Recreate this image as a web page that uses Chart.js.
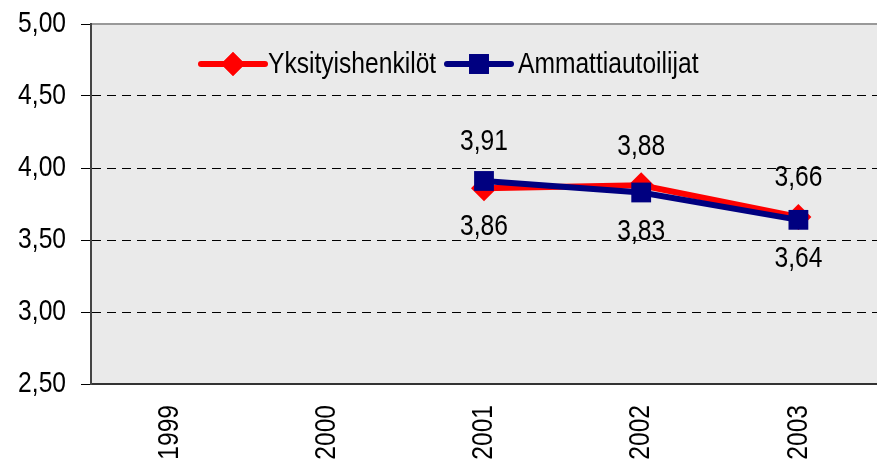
<!DOCTYPE html>
<html>
<head>
<meta charset="utf-8">
<script src="https://cdn.jsdelivr.net/npm/chart.js@4/dist/chart.umd.min.js"></script>
<style>
  html, body { margin: 0; padding: 0; background: #fff; overflow: hidden; }
  canvas { display: block; }
</style>
</head>
<body>
<canvas id="lineChart" width="877" height="467"></canvas>
<script>
const years = ["1999", "2000", "2001", "2002", "2003"];
const yksityiset = [null, null, 3.86, 3.88, 3.66];
const ammatti = [null, null, 3.91, 3.83, 3.64];
const seriesNames = ["Yksityishenkilöt", "Ammattiautoilijat"];
const yTicks = [2.5, 3.0, 3.5, 4.0, 4.5, 5.0];

const FONT = "30px 'Liberation Sans', Arial, sans-serif";
const NARROW = 0.82; // squeeze text to look like Arial Narrow
const RED = "#ff0000";
const NAVY = "#000080";

function fmt(v) {
  return v.toFixed(2).replace(".", ",");
}

// narrow text helper
function narrowText(ctx, txt, x, y, align) {
  ctx.save();
  ctx.translate(x, y);
  ctx.scale(NARROW, 1);
  ctx.textAlign = align;
  ctx.fillText(txt, 0, 0);
  ctx.restore();
}

// plot background + grey top border
const backdrop = {
  id: "backdrop",
  beforeDraw(chart) {
    const a = chart.chartArea, ctx = chart.ctx;
    ctx.save();
    ctx.fillStyle = "#eaeaea";
    ctx.fillRect(a.left, a.top, a.right - a.left, a.bottom - a.top);
    ctx.strokeStyle = "#999";
    ctx.lineWidth = 2;
    ctx.beginPath();
    ctx.moveTo(a.left, a.top);
    ctx.lineTo(a.right, a.top);
    ctx.stroke();
    ctx.restore();
  }
};

// axis tick labels drawn in narrow style
const axisLabels = {
  id: "axisLabels",
  afterDraw(chart) {
    const ctx = chart.ctx, xs = chart.scales.x, ys = chart.scales.y;
    ctx.save();
    ctx.font = FONT;
    ctx.fillStyle = "#000";
    ctx.textBaseline = "middle";
    yTicks.forEach(v => narrowText(ctx, fmt(v), ys.right - 25, ys.getPixelForValue(v), "right"));
    years.forEach((yr, i) => {
      ctx.save();
      ctx.translate(xs.getPixelForValue(i), xs.top + 21);
      ctx.rotate(-Math.PI / 2);
      narrowText(ctx, yr, 0, 0, "right");
      ctx.restore();
    });
    ctx.restore();
  }
};

// value labels: higher series above, lower below
const valueLabels = {
  id: "valueLabels",
  afterDatasetsDraw(chart) {
    const ctx = chart.ctx;
    const y = chart.scales.y;
    ctx.save();
    ctx.font = FONT;
    ctx.fillStyle = "#000";
    ctx.textBaseline = "middle";
    years.forEach((yr, i) => {
      const a = yksityiset[i], b = ammatti[i];
      if (a == null || b == null) return;
      const x = chart.scales.x.getPixelForValue(i);
      const hi = Math.max(a, b), lo = Math.min(a, b);
      narrowText(ctx, fmt(hi), x, y.getPixelForValue(hi) - 39, "center");
      narrowText(ctx, fmt(lo), x, y.getPixelForValue(lo) + 39, "center");
    });
    ctx.restore();
  }
};

// legend inside the plot
const innerLegend = {
  id: "innerLegend",
  afterDraw(chart) {
    const ctx = chart.ctx;
    const ly = 64;
    const items = [
      { x: 201, color: RED, style: "rectRot", r: 12, gap: 67 },
      { x: 447, color: NAVY, style: "rect", r: 14, gap: 71 }
    ];
    ctx.save();
    ctx.font = FONT;
    ctx.textBaseline = "middle";
    items.forEach((it, k) => {
      ctx.strokeStyle = it.color;
      ctx.lineWidth = 6;
      ctx.lineCap = "round";
      ctx.beginPath();
      ctx.moveTo(it.x, ly);
      ctx.lineTo(it.x + 64, ly);
      ctx.stroke();
      ctx.fillStyle = it.color;
      Chart.helpers.drawPoint(ctx, { pointStyle: it.style, radius: it.r, rotation: 0, borderWidth: 0 }, it.x + 32, ly);
      ctx.fill();
      ctx.fillStyle = "#000";
      narrowText(ctx, seriesNames[k], it.x + it.gap, ly + 1, "left");
    });
    ctx.restore();
  }
};

new Chart(document.getElementById("lineChart"), {
  type: "line",
  data: {
    labels: years,
    datasets: [
      {
        label: seriesNames[0],
        data: yksityiset,
        borderColor: RED,
        backgroundColor: RED,
        borderWidth: 6,
        pointStyle: "rectRot",
        pointRadius: 13,
        pointBorderWidth: 0,
        order: 1
      },
      {
        label: seriesNames[1],
        data: ammatti,
        borderColor: NAVY,
        backgroundColor: NAVY,
        borderWidth: 6,
        pointStyle: "rect",
        pointRadius: 14,
        pointBorderWidth: 0,
        order: 0
      }
    ]
  },
  options: {
    responsive: false,
    animation: false,
    layout: { autoPadding: false, padding: { top: 24, right: 0, left: 0, bottom: 0 } },
    plugins: { legend: { display: false }, tooltip: { enabled: false } },
    scales: {
      x: {
        offset: true,
        grid: { display: false },
        border: { display: true, color: "#333", width: 2 },
        ticks: { display: false },
        afterFit(s) { s.height = 83; }
      },
      y: {
        min: 2.5,
        max: 5.0,
        afterBuildTicks(s) { s.ticks = yTicks.map(v => ({ value: v })); },
        grid: {
          color: ctx => (ctx.tick && (ctx.tick.value === 5 || ctx.tick.value === 2.5)) ? "rgba(0,0,0,0)" : "#000",
          lineWidth: 1,
          tickColor: "#000",
          tickLength: 10,
          tickBorderDash: []
        },
        border: { display: true, color: "#444", width: 2, dash: [9, 6] },
        ticks: { display: false },
        afterFit(s) { s.width = 91; }
      }
    }
  },
  plugins: [backdrop, axisLabels, valueLabels, innerLegend]
});
</script>
</body>
</html>
